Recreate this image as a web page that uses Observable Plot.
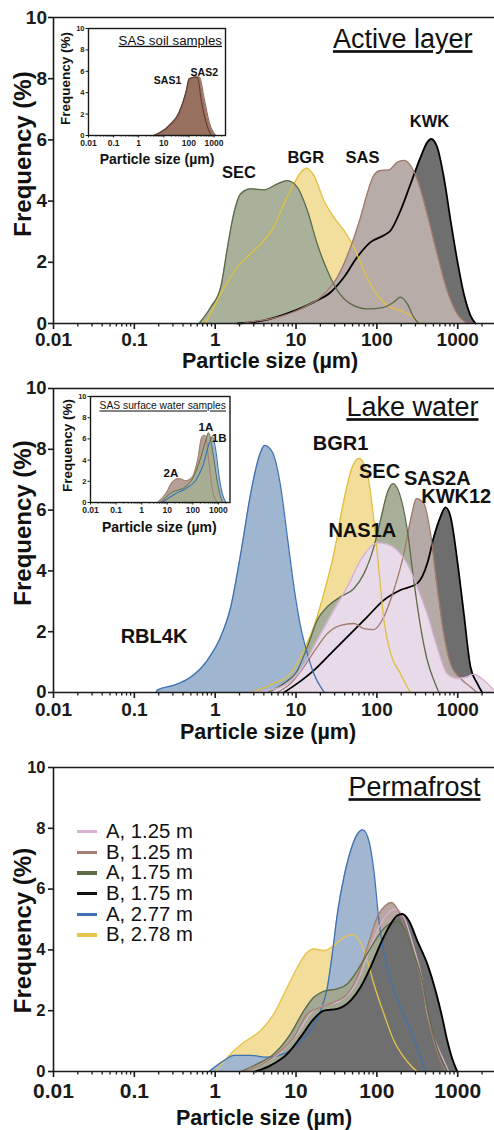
<!DOCTYPE html>
<html><head><meta charset="utf-8">
<script src="https://cdn.jsdelivr.net/npm/d3@7"></script>
<script src="https://cdn.jsdelivr.net/npm/@observablehq/plot@0.6"></script>
<style>
body{margin:0;background:#fff;font-family:"Liberation Sans",Arial,sans-serif}
#wrap{position:relative;width:494px;height:1130px;overflow:hidden;background:#fff}
#wrap svg{position:absolute;overflow:visible}
.legend{position:absolute;left:77px;top:821px;font-size:20.3px;line-height:20.7px;color:#111}
.legend div{height:20.7px;white-space:nowrap}
.legend span.sw{display:inline-block;width:20px;height:3.5px;vertical-align:middle;margin-right:9px;position:relative;top:-1px}
</style></head>
<body><div id="wrap"></div>
<script>
// ---------- tick labels ----------
const xTicks = [0.01, 0.1, 1, 10, 100, 1000];
const yTicks = [0, 2, 4, 6, 8, 10];
const xDomain = [0.01, 2850];
const xMinor = [];
for (const d of [0.01, 0.1, 1, 10, 100, 1000]) for (let m = 2; m <= 9; m++) if (m * d < 2850) xMinor.push(+(m * d).toPrecision(3));

// ---------- Panel 1: Active layer ----------
const p1SecSize = [0.63,0.88,1.17,1.42,1.63,2.07,2.75,4.0,5.9,7.8,10.4,13.8,18.3,24.4,32.4,47.3,75.9,122,162,195,238,286,331];
const p1SecFreq = [0,0.53,1.19,2.49,3.37,4.24,4.40,4.37,4.56,4.67,4.45,3.69,2.6,1.73,1.08,0.64,0.48,0.53,0.70,0.86,0.64,0.2,0];
const p1BgrSize = [0.76,1.17,1.88,2.75,4.0,5.3,7.1,9.4,12.0,13.5,16.6,22.1,29.4,39.1,52,69,92,134,196,261,331];
const p1BgrFreq = [0,0.97,1.84,2.28,2.71,3.15,3.91,4.56,5.0,5.08,4.84,4.02,3.47,3.04,2.49,1.73,1.08,0.59,0.42,0.26,0];
const p1SasSize = [2.17,3.0,4.85,12.5,20.1,32.4,47.3,62.8,75.9,91.8,111,141,179,216,261,331,420,558,741,986,1309];
const p1SasFreq = [0,0.07,0.15,0.53,0.86,1.51,2.49,3.47,4.24,4.84,5.0,5.02,5.27,5.33,5.16,4.56,3.58,2.28,1.08,0.32,0];
const p1KwkSize = [1.88,4.0,8.6,16.6,26.8,39.1,57.1,83.6,122,148,196,261,347,420,470,558,673,815,986,1189,1439,1660];
const p1KwkFreq = [0,0.1,0.37,0.70,1.02,1.51,2.17,2.66,2.88,3.04,3.69,4.56,5.43,5.92,6.03,5.76,4.78,3.37,2.06,0.97,0.26,0];
const p1Labels = ["SEC", "BGR", "SAS", "KWK"];

// Inset 1: SAS soil samples
const i1Sas1Size = [4.07,16.2,40.7,75.9,102,162,224,302,479,759];
const i1Sas1Freq = [0,0.93,2.18,4.05,5.3,5.45,5.4,3.43,1.24,0];
const i1Sas2Size = [4.07,16.2,40.7,75.9,112,178,263,407,646,1202];
const i1Sas2Freq = [0,0.85,2.0,3.9,5.25,5.5,5.45,3.43,1.24,0];
const i1Labels = ["SAS1", "SAS2"];

// ---------- Panel 2: Lake water ----------
const p2RblSize = [0.185,0.193,0.31,0.50,0.80,1.17,1.56,2.07,2.75,3.48,4.09,5.09,6.46,7.80,9.42,11.4,13.8,16.6,21.1,22.4];
const p2RblFreq = [0,0.08,0.24,0.51,1.06,1.83,2.82,4.57,6.55,7.75,8.13,7.91,6.76,5.12,3.47,2.16,1.28,0.62,0.1,0];
const p2BgrSize = [2.75,5.33,8.57,12.5,16.6,22.1,29.4,39.1,49.7,60,76,91.8,106,122,148,196,238,263];
const p2BgrFreq = [0,0.3,0.62,1.39,2.16,3.26,4.57,6.33,7.42,7.70,7.2,5.67,4.02,2.38,1.28,0.62,0.18,0];
const p2SecSize = [4.42,7.08,10.4,13.8,18.3,24.4,35.6,52,69.2,91.8,111,134,158,187,238,286,347,420,507,585];
const p2SecFreq = [0,0.3,0.73,1.5,2.38,2.82,3.15,3.42,3.91,4.79,5.67,6.55,6.87,6.6,5.34,3.69,2.16,1.06,0.4,0];
const p2SasSize = [5.87,8.57,12.5,18.3,24.4,35.6,52,69.2,91.8,122,162,216,261,310,381,461,558,673,815,1084,1439,1738];
const p2SasFreq = [0,0.3,0.84,1.5,1.94,2.21,2.27,2.1,2.07,2.49,3.37,4.57,5.67,6.38,6.22,5.23,3.47,1.94,0.95,0.46,0.18,0];
const p2KwkSize = [7.08,10.4,16.6,26.8,43.1,76,122,196,316,420,507,612,706,815,986,1189,1439,1742,2009];
const p2KwkFreq = [0,0.3,0.73,1.28,1.83,2.49,3.04,3.37,3.59,4.24,5.12,5.78,6.09,5.78,4.35,2.6,0.84,0.3,0];
const p2NasSize = [2.75,6.46,11.4,18.3,29.4,43.1,62.8,83.6,101,134,179,238,316,420,558,741,986,1309,1581,2104,2793];
const p2NasFreq = [0,0.18,0.73,1.72,2.71,3.47,4.35,4.79,4.92,4.88,4.68,4.24,3.47,2.6,1.5,0.62,0.46,0.51,0.6,0.4,0.08];
const p2Labels = ["BGR1", "SEC", "SAS2A", "KWK12", "NAS1A", "RBL4K"];

// Inset 2: SAS surface water samples
const i2A2Size = [4.2,8.9,16.2,29.5,53.7,97.7,155,229,302,417,589,933];
const i2A2Freq = [0,0.85,1.95,2.26,2.05,2.42,4.0,6.2,6.35,4.0,1.16,0];
const i2A1Size = [5.6,16.2,39.8,97.7,209,324,417,589,933,1445,1585];
const i2A1Freq = [0,1.0,1.32,2.26,4.3,5.9,6.57,4.93,1.79,0.1,0];
const i2B1Size = [6.3,21.9,53.7,132,240,437,589,794,1072,1549,1995];
const i2B1Freq = [0,0.85,1.32,2.1,3.37,5.57,6.2,4.93,2.42,0.54,0];
const i2Labels = ["1A", "1B", "2A"];

// ---------- Panel 3: Permafrost ----------
const p3B278Size = [1.01,1.56,2.27,3.66,5.33,7.8,10.4,13.8,16.6,22.1,29.4,39.1,49.7,62.8,76,91.8,122,162,216,274,316];
const p3B278Freq = [0,0.58,0.96,1.35,1.9,2.77,3.43,3.92,4.03,3.98,4.14,4.41,4.5,4.25,3.65,2.88,1.9,1.02,0.47,0.14,0];
const p3A277Size = [0.84,1.29,1.71,2.75,4.42,7.08,10.4,15.1,20.1,24.4,28.1,32.4,39.1,47.3,57.3,67.1,79.6,91.8,106,122,148,196,261,347,400];
const p3A277Freq = [0,0.36,0.53,0.53,0.47,0.58,0.91,1.35,2.0,2.77,3.87,5.18,6.39,7.26,7.81,7.95,7.59,6.6,4.96,3.87,2.99,2.11,1.35,0.47,0];
const p3A125Size = [2.5,4.0,6.46,10.4,15.1,22.1,32.4,47.3,62.8,83.6,111,148,170,216,286,364,420,507,643,776];
const p3A125Freq = [0,0.25,0.63,1.24,1.9,2.17,2.28,2.61,3.21,4.08,4.85,5.29,5.35,5.07,4.08,2.99,1.9,1.13,0.47,0];
const p3B125Size = [2.27,3.66,5.87,9.42,13.8,20.1,29.4,43.1,57.3,76,101,128,152,179,238,316,381,440,532,612,706];
const p3B125Freq = [0,0.2,0.58,1.13,1.9,2.11,2.28,2.55,3.1,4.08,5.07,5.46,5.56,5.35,4.52,3.54,2.55,1.68,0.8,0.36,0];
const p3A175Size = [2.07,3.33,5.33,8.57,12.5,16.6,22.1,32.4,43.1,57.3,76,101,134,179,226,286,364,420,507,612,741];
const p3A175Freq = [0,0.25,0.58,1.24,2.0,2.44,2.64,2.72,2.88,3.32,3.87,4.41,4.8,4.93,4.63,3.87,2.99,2.11,1.13,0.47,0];
const p3B175Size = [3.16,4.85,7.8,11.4,16.6,22.1,32.4,47.3,62.8,83.6,111,148,179,206,249,316,420,532,643,741,855,986];
const p3B175Freq = [0,0.2,0.58,1.13,1.73,2.0,2.06,2.33,2.77,3.43,4.2,4.85,5.13,5.18,4.96,4.3,3.54,2.66,1.78,1.02,0.42,0];
const p3Legend = ["A, 1.25 m", "B, 1.25 m", "A, 1.75 m", "B, 1.75 m", "A, 2.77 m", "B, 2.78 m"];

// ---------- helpers ----------
const FONT = "Liberation Sans, Arial, Helvetica, sans-serif";
const rows = (size, freq) => size.map((s, i) => ({size: s, freq: freq[i]}));
const wrap = document.getElementById("wrap");
const AXIS = "#1a1a1a";

function curveMarks(series) {
  const m = [];
  for (const s of series) m.push(Plot.areaY(s.data, {x: "size", y: "freq", fill: s.fill, fillOpacity: s.op ?? 1, curve: "monotone-x"}));
  for (const s of series) m.push(Plot.lineY(s.data, {x: "size", y: "freq", stroke: s.stroke, strokeWidth: s.sw ?? 1.3, curve: "monotone-x"}));
  return m;
}

function underline(svg, texts) {
  d3.select(svg).selectAll("text").filter(function () { return texts.includes(this.textContent); })
    .attr("text-decoration", "underline");
}

function mainPanel(o) {
  const plot = Plot.plot({
    width: 494, height: o.height,
    marginTop: 17, marginLeft: 53, marginRight: 0, marginBottom: o.marginBottom,
    style: {fontFamily: FONT, color: AXIS, background: "transparent", overflow: "visible"},
    x: {type: "log", domain: xDomain},
    y: {domain: [0, 10]},
    marks: [
      ...curveMarks(o.series),
      Plot.ruleY([0, 10], {stroke: AXIS, strokeWidth: 1.6}),
      Plot.ruleX([0.01], {stroke: AXIS, strokeWidth: 1.6}),
      Plot.axisX({ticks: xMinor, tickSize: 3.5, tickFormat: () => "", label: null, strokeWidth: 1.3}),
      Plot.axisX({ticks: xTicks, tickSize: 6, tickPadding: o.xTickPad, tickFormat: d => String(d), label: null,
        fontSize: o.xTickFont, fontWeight: "bold", strokeWidth: 1.6}),
      Plot.axisY({ticks: yTicks, tickSize: 5, tickPadding: o.yTickPad, label: null,
        fontSize: o.yTickFont, fontWeight: "bold", strokeWidth: 1.6}),
      Plot.text(["Particle size (µm)"], {frameAnchor: "bottom", lineAnchor: "top", dy: o.xTitleDy, dx: o.xTitleDx,
        fontSize: 21.5, fontWeight: "bold", fill: "#111"}),
      Plot.text(["Frequency (%)"], {frameAnchor: "left", rotate: -90, textAnchor: "middle", lineAnchor: "middle",
        dx: -30, dy: o.yTitleDy, fontSize: 24, fontWeight: "bold", fill: "#111"}),
      Plot.text([o.title], {frameAnchor: "top-right", textAnchor: "end", lineAnchor: "middle", dx: o.titleDx, dy: o.titleDy,
        fontSize: 27, fill: "#111"}),
      ...(o.labels ? [Plot.text(o.labels.names, {x: (d, i) => o.labels.x[i], y: (d, i) => o.labels.y[i], text: d => d,
        fontSize: o.labels.fontSize, fontWeight: "bold", fill: "#111"})] : [])
    ]
  });
  plot.style.left = "0px";
  plot.style.top = o.top + "px";
  wrap.appendChild(plot);
  underline(plot, [o.title]);
  return plot;
}

function insetPanel(o) {
  const plot = Plot.plot({
    width: o.width, height: o.height,
    marginTop: 10, marginLeft: 50, marginRight: 8, marginBottom: 35,
    style: {fontFamily: FONT, color: AXIS, background: "transparent", overflow: "visible"},
    x: {type: "log", domain: xDomain},
    y: {domain: [0, 10]},
    marks: [
      ...curveMarks(o.series),
      Plot.frame({stroke: AXIS, strokeWidth: 1.4}),
      Plot.axisX({ticks: xMinor, tickSize: 1.6, tickFormat: () => "", label: null, strokeWidth: 0.8}),
      Plot.axisX({ticks: xTicks, tickSize: 2.5, tickPadding: 1.8, tickFormat: d => String(d), label: null,
        fontSize: 8.5, fontWeight: "bold", strokeWidth: 1}),
      Plot.axisY({ticks: yTicks, tickSize: 2.5, tickPadding: 1.5, label: null, fontSize: 7.5, fontWeight: "bold", strokeWidth: 1}),
      Plot.text(["Particle size (µm)"], {frameAnchor: "bottom", lineAnchor: "middle", dy: o.xTitleDy, dx: o.xTitleDx,
        fontSize: 14, fontWeight: "bold", fill: "#111"}),
      Plot.text(["Frequency (%)"], {frameAnchor: "left", rotate: -90, textAnchor: "middle", lineAnchor: "middle",
        dx: o.yTitleDx, dy: o.yTitleDy, fontSize: 13.5, fontWeight: "bold", fill: "#111"}),
      Plot.text([o.title], {frameAnchor: "top-right", textAnchor: "end", lineAnchor: "middle", dx: o.titleDx, dy: o.titleDy,
        fontSize: o.titleSize, fill: "#111"}),
      Plot.text(o.labels.names, {x: (d, i) => o.labels.x[i], y: (d, i) => o.labels.y[i], text: d => d,
        fontSize: o.labels.fontSize, fontWeight: "bold", fill: "#111"})
    ]
  });
  plot.style.left = o.left + "px";
  plot.style.top = o.top + "px";
  wrap.appendChild(plot);
  underline(plot, [o.title]);
  return plot;
}

// ---------- draw panel 1 ----------
mainPanel({
  top: 0, height: 370, marginBottom: 47,
  xTickFont: 19, xTickPad: 2.5, yTickFont: 19, yTickPad: 1.5,
  xTitleDy: 29, xTitleDx: -4, yTitleDy: -16.5,
  title: "Active layer", titleDx: -22, titleDy: 22,
  series: [
    {data: rows(p1KwkSize, p1KwkFreq), fill: "#6f6f6f", stroke: "#000", sw: 1.8},
    {data: rows(p1BgrSize, p1BgrFreq), fill: "#f3df9d", stroke: "#e2c040"},
    {data: rows(p1SecSize, p1SecFreq), fill: "#a9b19a", stroke: "#5b6a46"},
    {data: rows(p1SasSize, p1SasFreq), fill: "#b8aca8", stroke: "#a27a6b"}
  ],
  labels: {names: p1Labels, x: [1.97, 13.2, 66.5, 448], y: [4.93, 5.41, 5.42, 6.6], fontSize: 16.5}
});

insetPanel({
  left: 38, top: 18, width: 195, height: 152,
  xTitleDy: 24, xTitleDx: 0, yTitleDx: -22.5, yTitleDy: -3.5,
  title: "SAS soil samples", titleSize: 13.3, titleDx: -3.5, titleDy: 12,
  series: [
    {data: rows(i1Sas2Size, i1Sas2Freq), fill: "#9e7666", stroke: "#8a6354", sw: 1},
    {data: rows(i1Sas1Size, i1Sas1Freq), fill: "#97705f", stroke: "#5e4032", sw: 1.1}
  ],
  labels: {names: i1Labels, x: [14, 409], y: [5.14, 5.92], fontSize: 10.5}
});

// ---------- draw panel 2 ----------
mainPanel({
  top: 371, height: 368, marginBottom: 47,
  xTickFont: 19, xTickPad: 3.5, yTickFont: 18.5, yTickPad: 2,
  xTitleDy: 31, xTitleDx: -6, yTitleDy: -17.5,
  title: "Lake water", titleDx: -16, titleDy: 19,
  series: [
    {data: rows(p2KwkSize, p2KwkFreq), fill: "#6e6e6e", stroke: "#000", sw: 1.8},
    {data: rows(p2SasSize, p2SasFreq), fill: "#b6aaa6", stroke: "#a27a6c"},
    {data: rows(p2BgrSize, p2BgrFreq), fill: "#f2de9a", stroke: "#e0be3e"},
    {data: rows(p2SecSize, p2SecFreq), fill: "#a7af98", stroke: "#5d6b48"},
    {data: rows(p2RblSize, p2RblFreq), fill: "#a0b5d0", stroke: "#3d71b3"},
    {data: rows(p2NasSize, p2NasFreq), fill: "#e8dae8", stroke: "#d3afd1"}
  ],
  labels: {names: p2Labels, x: [35.6, 108, 558, 957, 66, 0.175], y: [8.19, 7.26, 7.04, 6.43, 5.34, 1.83], fontSize: 20}
});

insetPanel({
  left: 39.5, top: 386, width: 197.5, height: 151,
  xTitleDy: 24.7, xTitleDx: -1, yTitleDx: -23, yTitleDy: -4,
  title: "SAS surface water samples", titleSize: 10.3, titleDx: -4, titleDy: 9.7,
  series: [
    {data: rows(i2A2Size, i2A2Freq), fill: "#b59e94", stroke: "#a67c6f", sw: 1},
    {data: rows(i2B1Size, i2B1Freq), fill: "#a3b6cf", stroke: "#3d71b3", sw: 1.1},
    {data: rows(i2A1Size, i2A1Freq), fill: "#a6ad92", stroke: "#5e6c48", sw: 1}
  ],
  labels: {names: i2Labels, x: [325, 1075, 14], y: [7.1, 6.1, 2.8], fontSize: 11.5}
});

// ---------- draw panel 3 ----------
const p3Colors = ["#d6b3d3", "#a57f71", "#5d6b47", "#111111", "#3e72b3", "#e6c54d"];
mainPanel({
  top: 750, height: 380, marginBottom: 59,
  xTickFont: 21, xTickPad: 6, yTickFont: 16.5, yTickPad: 3,
  xTitleDy: 38, xTitleDx: -10, yTitleDy: 11,
  title: "Permafrost", titleDx: -14, titleDy: 20,
  series: [
    {data: rows(p3B278Size, p3B278Freq), fill: "#f2dd9b", stroke: p3Colors[5]},
    {data: rows(p3A277Size, p3A277Freq), fill: "#a2b6d0", stroke: p3Colors[4]},
    {data: rows(p3A125Size, p3A125Freq), fill: "#d9c7d6", stroke: p3Colors[0]},
    {data: rows(p3B125Size, p3B125Freq), fill: "#b9a7a1", stroke: p3Colors[1]},
    {data: rows(p3A175Size, p3A175Freq), fill: "#a3a892", stroke: p3Colors[2]},
    {data: rows(p3B175Size, p3B175Freq), fill: "#6f6f6f", stroke: "#000", sw: 1.9}
  ]
});

// legend
const lg = document.createElement("div");
lg.className = "legend";
p3Legend.forEach((t, i) => {
  const row = document.createElement("div");
  const sw = document.createElement("span");
  sw.className = "sw";
  sw.style.background = p3Colors[i];
  row.appendChild(sw);
  row.appendChild(document.createTextNode(t));
  lg.appendChild(row);
});
wrap.appendChild(lg);
</script>
</body></html>
